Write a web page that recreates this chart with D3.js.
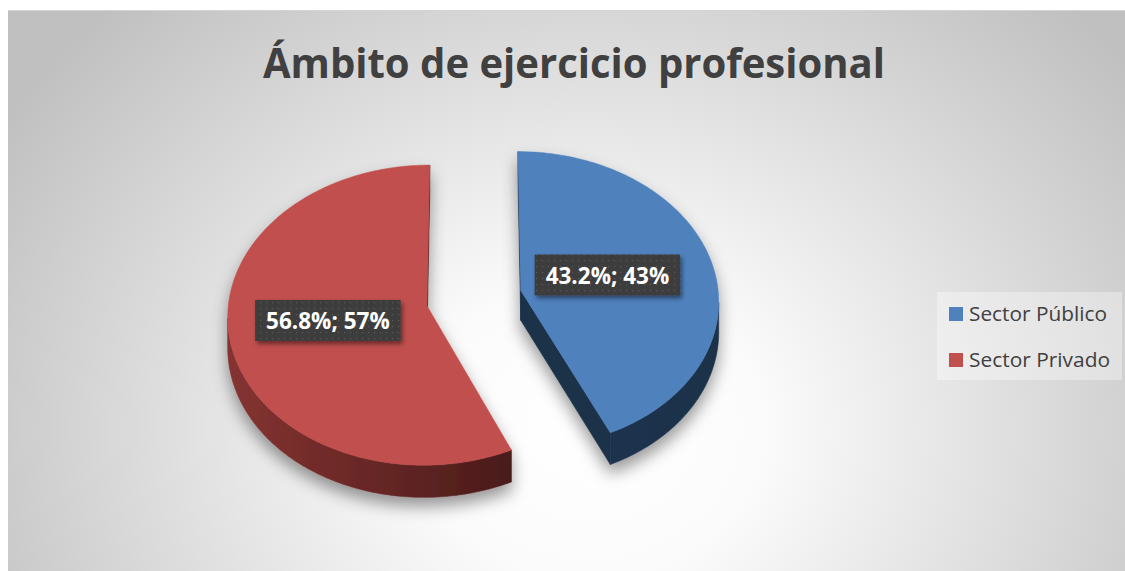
<!DOCTYPE html>
<html>
<head>
<meta charset="utf-8">
<script src="https://cdn.jsdelivr.net/npm/d3@7"></script>
<style>
  html, body { margin: 0; padding: 0; background: #ffffff; }
  svg { display: block; }
</style>
</head>
<body>
<svg id="chart" width="1125" height="571"></svg>
<script>
// ---- Data ----
const categories = ["Sector Público", "Sector Privado"];
const values = [43.2, 56.8];
const dataLabels = ["43.2%; 43%", "56.8%; 57%"];
const topColors = ["#4F81BD", "#C0504D"];
const sideColors = ["#1F3553", "#853331"];
const sideDarkColors = ["#1C3049", "#4A1B1A"];
const titleText = "Ámbito de ejercicio profesional";

// ---- Layout / projection ----
const W = 1125, H = 571;
const cx = 474, cy = 298;     // pie center on screen
const R = 198;                // radius (screen px at depth 0)
const tilt = 0.75;            // vertical squash
const D = 3140;               // perspective distance
const E = 48;                 // explode distance
const thick = 30;             // pie thickness

const svg = d3.select("#chart");
const defs = svg.append("defs");

// background gradient
const bg = defs.append("radialGradient").attr("id", "bg")
  .attr("gradientUnits", "userSpaceOnUse")
  .attr("cx", 590).attr("cy", 430).attr("r", 690)
  .attr("gradientTransform", "translate(590,430) scale(1,0.85) translate(-590,-430)");
bg.append("stop").attr("offset", "0").attr("stop-color", "#ffffff");
bg.append("stop").attr("offset", "0.25").attr("stop-color", "#fbfbfb");
bg.append("stop").attr("offset", "1").attr("stop-color", "#c0c0c0");

svg.append("rect").attr("x", 8).attr("y", 10).attr("width", W - 8).attr("height", H - 10)
  .attr("fill", "url(#bg)");
svg.append("line").attr("x1", 8).attr("x2", W).attr("y1", 10.5).attr("y2", 10.5)
  .attr("stroke", "#d4d4d4").attr("stroke-width", 1);

// filters
const sh = defs.append("filter").attr("id", "sliceShadow")
  .attr("x", "-20%").attr("y", "-20%").attr("width", "140%").attr("height", "150%");
sh.append("feDropShadow").attr("dx", 0).attr("dy", 9).attr("stdDeviation", 8)
  .attr("flood-color", "#000").attr("flood-opacity", 0.4);

const lsh = defs.append("filter").attr("id", "labelShadow")
  .attr("x", "-20%").attr("y", "-30%").attr("width", "140%").attr("height", "170%");
lsh.append("feDropShadow").attr("dx", 2).attr("dy", 3).attr("stdDeviation", 2.2)
  .attr("flood-color", "#000").attr("flood-opacity", 0.45);

// dotted pattern for label boxes
const pat = defs.append("pattern").attr("id", "dots")
  .attr("patternUnits", "userSpaceOnUse").attr("width", 6).attr("height", 6);
pat.append("rect").attr("width", 6).attr("height", 6).attr("fill", "#3d3d3d");
pat.append("rect").attr("x", 2).attr("y", 2).attr("width", 1.2).attr("height", 1.2).attr("fill", "#5a5a5a");

// projection: X right, Z far, Y down (thickness)
function proj(X, Z, Y) {
  const s = D / (D + Z);
  return [cx + X * s, cy - Z * tilt * s + Y * s];
}

const pie = d3.pie().sort(null).value(d => d);
const arcs = pie(values);

function sampleAngles(a0, a1) {
  const n = Math.max(2, Math.ceil((a1 - a0) / (Math.PI / 180)));
  return d3.range(n + 1).map(i => a0 + (a1 - a0) * i / n);
}
function signedArea(pts) {
  let s = 0;
  for (let i = 0; i < pts.length; i++) {
    const [x1, y1] = pts[i], [x2, y2] = pts[(i + 1) % pts.length];
    s += x1 * y2 - x2 * y1;
  }
  return s / 2;
}
const line = d3.line();

const slicesG = svg.append("g");

arcs.forEach((a, i) => {
  const mid = (a.startAngle + a.endAngle) / 2;
  const ex = E * Math.sin(mid), ez = E * Math.cos(mid);
  const P = (t, r, y) => proj(ex + r * Math.sin(t), ez + r * Math.cos(t), y);
  const angs = sampleAngles(a.startAngle, a.endAngle);

  const g = slicesG.append("g").attr("filter", "url(#sliceShadow)");

  // side gradient for outer wall (horizontal)
  const xs = angs.map(t => P(t, R, 0)[0]);
  const gid = "wall" + i;
  const grad = defs.append("linearGradient").attr("id", gid)
    .attr("gradientUnits", "userSpaceOnUse")
    .attr("x1", d3.min(xs)).attr("x2", d3.max(xs)).attr("y1", 0).attr("y2", 0);
  grad.append("stop").attr("offset", 0).attr("stop-color", sideColors[i]);
  grad.append("stop").attr("offset", 1).attr("stop-color", sideDarkColors[i]);

  // cut faces
  const c0 = P(0, 0, 0), c0b = P(0, 0, thick);
  const e0 = P(a.startAngle, R, 0), e0b = P(a.startAngle, R, thick);
  const e1 = P(a.endAngle, R, 0), e1b = P(a.endAngle, R, thick);
  const face0 = [c0, e0, e0b, c0b];
  const face1 = [e1, c0, c0b, e1b];
  [face0, face1].forEach(f => {
    if (signedArea(f) < 0) {
      g.append("path").attr("d", line(f) + "Z")
        .attr("fill", sideDarkColors[i]).attr("stroke", sideDarkColors[i]).attr("stroke-width", 0.6);
    }
  });

  // outer wall: visible runs
  let runs = [], cur = null;
  for (let j = 0; j < angs.length - 1; j++) {
    const t0 = angs[j], t1 = angs[j + 1];
    const q = [P(t0, R, 0), P(t1, R, 0), P(t1, R, thick), P(t0, R, thick)];
    if (signedArea(q) < 0) {
      if (!cur) { cur = [t0]; runs.push(cur); }
      cur.push(t1);
    } else cur = null;
  }
  runs.forEach(run => {
    const pts = run.map(t => P(t, R, 0)).concat(run.slice().reverse().map(t => P(t, R, thick)));
    g.append("path").attr("d", line(pts) + "Z")
      .attr("fill", `url(#${gid})`).attr("stroke", `url(#${gid})`).attr("stroke-width", 0.6);
  });

  // top face
  const topPts = [c0].concat(angs.map(t => P(t, R, 0)));
  g.append("path").attr("d", line(topPts) + "Z")
    .attr("fill", topColors[i]).attr("stroke", topColors[i]).attr("stroke-width", 0.5);
});

// data labels
const labelG = svg.append("g");
arcs.forEach((a, i) => {
  const mid = (a.startAngle + a.endAngle) / 2;
  const ex = E * Math.sin(mid), ez = E * Math.cos(mid);
  const rl = 95;
  const [lx0, ly] = proj(ex + rl * Math.sin(mid), ez + rl * Math.cos(mid), 0);
  const lx = lx0 - 5;
  const t = labelG.append("text")
    .attr("x", lx).attr("y", ly)
    .attr("text-anchor", "middle").attr("dominant-baseline", "central")
    .attr("font-family", "'Open Sans', 'Noto Sans', sans-serif")
    .attr("font-weight", 700).attr("font-size", 22.5).attr("fill", "#ffffff")
    .text(dataLabels[i]);
  const bb = t.node().getBBox();
  const padX = 11, bw = bb.width + 2 * padX, bh = 41;
  labelG.insert("rect", "text")
    .attr("x", lx - bw / 2).attr("y", ly - bh / 2 - 0.5)
    .attr("width", bw).attr("height", bh)
    .attr("fill", "url(#dots)").attr("filter", "url(#labelShadow)");
});

// title
svg.append("text")
  .attr("x", 574).attr("y", 78)
  .attr("text-anchor", "middle")
  .attr("font-family", "'Open Sans', 'Noto Sans', sans-serif")
  .attr("font-weight", 700).attr("font-size", 41).attr("fill", "#404040")
  .attr("textLength", 622).attr("lengthAdjust", "spacingAndGlyphs")
  .text(titleText);

// legend
const lg = svg.append("g");
lg.append("rect").attr("x", 937).attr("y", 292).attr("width", 185).attr("height", 88)
  .attr("fill", "#ffffff").attr("fill-opacity", 0.35);
categories.forEach((c, i) => {
  const y = 307 + i * 46;
  lg.append("rect").attr("x", 949).attr("y", y).attr("width", 14).attr("height", 14)
    .attr("fill", topColors[i]);
  lg.append("text").attr("x", 969).attr("y", y + 14)
    .attr("font-family", "'Open Sans', 'Noto Sans', sans-serif")
    .attr("font-size", 20.5).attr("fill", "#404040")
    .attr("textLength", i === 0 ? 138 : 141).attr("lengthAdjust", "spacingAndGlyphs")
    .text(c);
});
</script>
</body>
</html>
